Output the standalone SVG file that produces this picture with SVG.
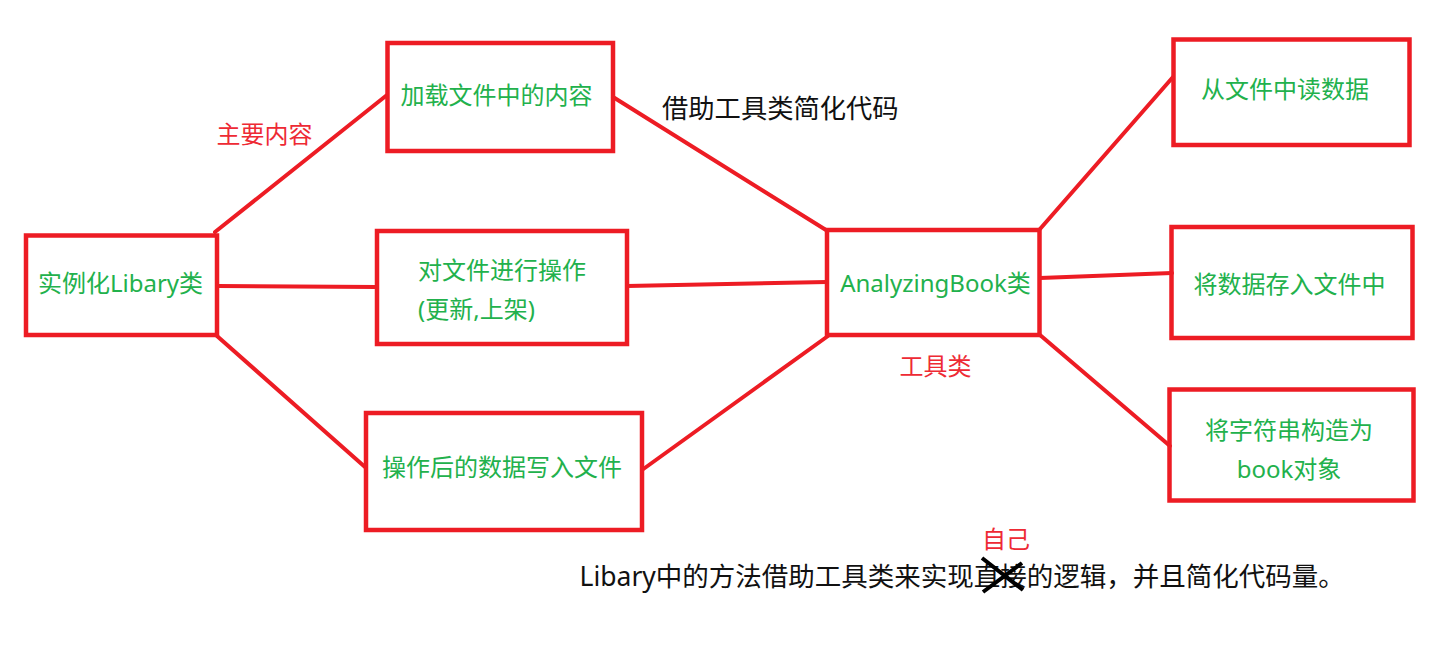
<svg xmlns="http://www.w3.org/2000/svg" width="1439" height="646" viewBox="0 0 1439 646">
<style>
.box{fill:none;stroke:#ED1C24;stroke-width:4.5}
.conn{fill:none;stroke:#ED1C24;stroke-width:4;stroke-linecap:round}
.g{fill:#22B14C;font-family:"Noto Sans","Noto Sans CJK SC",sans-serif;font-size:24px}
.r{fill:#EE2A34;font-family:"Noto Sans","Noto Sans CJK SC",sans-serif;font-size:24px}
.k{fill:#111;font-family:"Noto Sans","Noto Sans CJK SC",sans-serif}
.m{text-anchor:middle}
</style>
<rect width="1439" height="646" fill="#fff"/>
<g id="connectors">
<line class="conn" x1="215" y1="232" x2="387" y2="95"/>
<line class="conn" x1="217" y1="286" x2="377" y2="287"/>
<line class="conn" x1="217" y1="336" x2="365" y2="467"/>
<line class="conn" x1="613" y1="97" x2="826" y2="230"/>
<line class="conn" x1="627" y1="286" x2="827" y2="282"/>
<line class="conn" x1="642" y1="470" x2="828" y2="336"/>
<line class="conn" x1="1040" y1="229" x2="1173" y2="77"/>
<line class="conn" x1="1040" y1="278" x2="1172" y2="273"/>
<line class="conn" x1="1040" y1="335" x2="1170" y2="446"/>
</g>
<g id="node-libary">
<rect class="box" x="26" y="235.5" width="191" height="99.5"/>
<text class="g m" x="120.5" y="292">实例化Libary类</text>
</g>
<g id="node-load">
<rect class="box" x="387.5" y="43" width="225.5" height="108"/>
<text class="g m" x="496.5" y="104">加载文件中的内容</text>
</g>
<g id="node-operate">
<rect class="box" x="377" y="231" width="250" height="113"/>
<text class="g" x="418" y="279">对文件进行操作</text>
<text class="g" x="418" y="318">(更新,上架)</text>
</g>
<g id="node-write">
<rect class="box" x="366" y="413" width="276" height="117"/>
<text class="g m" x="502" y="476">操作后的数据写入文件</text>
</g>
<g id="node-analyzing">
<rect class="box" x="827" y="230" width="212.5" height="105"/>
<text class="g m" x="935.5" y="292">AnalyzingBook类</text>
</g>
<g id="node-read">
<rect class="box" x="1173.5" y="39.5" width="236" height="105.5"/>
<text class="g m" x="1285" y="98">从文件中读数据</text>
</g>
<g id="node-store">
<rect class="box" x="1171.5" y="227" width="241" height="111"/>
<text class="g m" x="1289.5" y="293">将数据存入文件中</text>
</g>
<g id="node-construct">
<rect class="box" x="1169.5" y="389.5" width="244" height="111"/>
<text class="g m" x="1289" y="439">将字符串构造为</text>
<text class="g m" x="1289" y="478">book对象</text>
</g>
<g id="labels">
<text class="r m" x="264.5" y="143">主要内容</text>
<text class="k" x="662" y="118" font-size="26.3">借助工具类简化代码</text>
<text class="r m" x="1006" y="548" font-size="25">自己</text>
<text class="r m" x="935.5" y="375">工具类</text>
<text class="k" x="579.5" y="586" font-size="26.5">Libary中的方法借助工具类来实现直接的逻辑，并且简化代码量。</text>
<path d="M982,558 L1023,590 M983,592 L1022,563" stroke="#000" stroke-width="4" fill="none"/>
</g>
</svg>
